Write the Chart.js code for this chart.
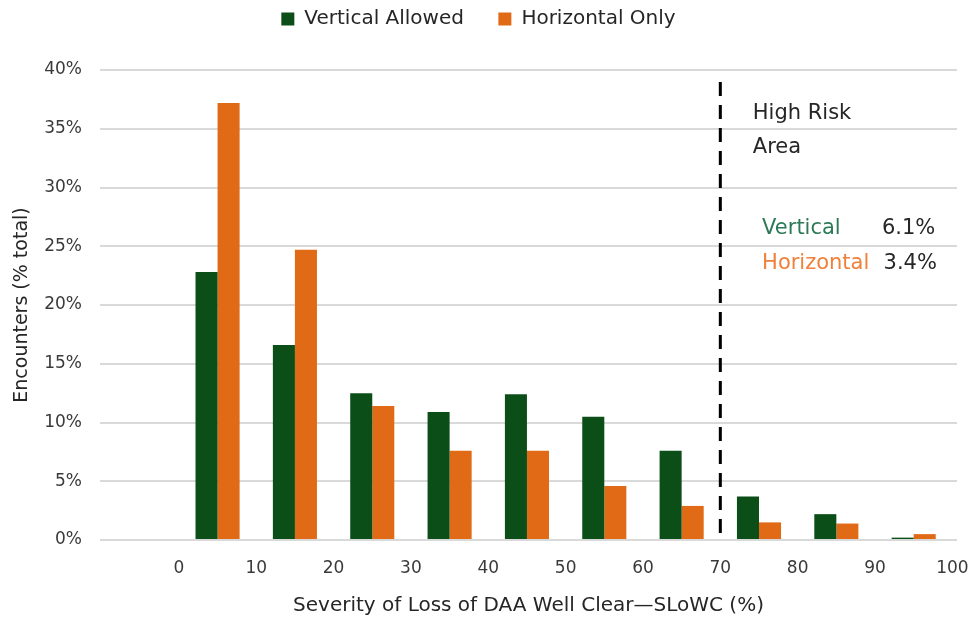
<!DOCTYPE html>
<html>
<head>
<meta charset="utf-8">
<script src="https://cdn.jsdelivr.net/npm/chart.js@4"></script>
<style>
  html, body { margin: 0; padding: 0; background: #fff; }
  #wrap { width: 973px; height: 622px; }
</style>
</head>
<body>
<div id="wrap"><canvas id="chart"></canvas></div>
<script>
// bin centres (SLoWC %) and share of encounters per bin
const binCenters = [5, 15, 25, 35, 45, 55, 65, 75, 85, 95];
const verticalAllowed = [22.8, 16.6, 12.5, 10.9, 12.4, 10.5, 7.6, 3.7, 2.2, 0.2];
const horizontalOnly = [37.2, 24.7, 11.4, 7.6, 7.6, 4.6, 2.9, 1.5, 1.4, 0.5];
const xTicks = [0, 10, 20, 30, 40, 50, 60, 70, 80, 90, 100];
const highRiskAt = 70;
const highRiskTotals = { vertical: '6.1%', horizontal: '3.4%' };

const GREEN = '#0c4e18';
const ORANGE = '#e06a16';
const FONT = "'DejaVu Sans', sans-serif";

// a bit of extra room under the legend
const legendGap = {
  id: 'legendGap',
  beforeInit(chart) {
    const fit = chart.legend.fit;
    chart.legend.fit = function () {
      fit.call(this);
      this.height += 31;
    };
  }
};

const annotate = {
  id: 'annotate',
  afterDatasetsDraw(chart) {
    const { ctx, scales: { x, y } } = chart;
    ctx.save();
    ctx.font = '21px ' + FONT;
    ctx.textBaseline = 'middle';
    ctx.textAlign = 'left';
    ctx.fillStyle = '#262626';
    ctx.fillText('High Risk', x.getPixelForValue(74.2), y.getPixelForValue(36.3));
    ctx.fillText('Area', x.getPixelForValue(74.2), y.getPixelForValue(33.4));
    ctx.fillStyle = '#2b7a55';
    ctx.fillText('Vertical', x.getPixelForValue(75.4), y.getPixelForValue(26.5));
    ctx.fillStyle = '#f0803a';
    ctx.fillText('Horizontal', x.getPixelForValue(75.4), y.getPixelForValue(23.5));
    ctx.fillStyle = '#262626';
    ctx.fillText(highRiskTotals.vertical, x.getPixelForValue(90.9), y.getPixelForValue(26.5));
    ctx.fillText(highRiskTotals.horizontal, x.getPixelForValue(91.1), y.getPixelForValue(23.5));
    ctx.restore();
  }
};

new Chart(document.getElementById('chart'), {
  type: 'bar',
  data: {
    datasets: [
      {
        label: 'Vertical Allowed',
        data: binCenters.map((c, i) => ({ x: c, y: verticalAllowed[i] })),
        backgroundColor: GREEN,
        borderWidth: 0,
        categoryPercentage: 0.57,
        barPercentage: 1.0
      },
      {
        label: 'Horizontal Only',
        data: binCenters.map((c, i) => ({ x: c, y: horizontalOnly[i] })),
        backgroundColor: ORANGE,
        borderWidth: 0,
        categoryPercentage: 0.57,
        barPercentage: 1.0
      },
      {
        type: 'line',
        label: 'High Risk',
        data: [{ x: highRiskAt, y: 0.6 }, { x: highRiskAt, y: 39.5 }],
        borderColor: '#000',
        borderWidth: 3,
        borderDash: [14, 9],
        pointRadius: 0,
        fill: false
      }
    ]
  },
  plugins: [legendGap, annotate],
  options: {
    responsive: true,
    maintainAspectRatio: false,
    animation: false,
    layout: { padding: { left: 0, right: 16, top: 0, bottom: 0 } },
    plugins: {
      legend: {
        position: 'top',
        labels: {
          boxWidth: 13,
          boxHeight: 13,
          padding: 9,
          color: '#262626',
          font: { family: FONT, size: 20 },
          generateLabels: chart => {
            const items = Chart.defaults.plugins.legend.labels.generateLabels(chart)
              .filter(item => item.text !== 'High Risk');
            items[0].text += '    ';
            return items;
          }
        }
      },
      tooltip: { enabled: false }
    },
    scales: {
      x: {
        type: 'linear',
        offset: false,
        min: -10.2,
        max: 100.6,
        afterBuildTicks: s => { s.ticks = xTicks.map(v => ({ value: v })); },
        afterFit: s => {
          s.height = 82;
          s.paddingLeft = 0;
          s.paddingRight = 0;
        },
        grid: { display: false, drawTicks: false },
        border: { display: false },
        ticks: { color: '#3a3a3a', padding: 18, font: { family: FONT, size: 17 } },
        title: {
          display: true,
          text: 'Severity of Loss of DAA Well Clear\u2014SLoWC (%)',
          color: '#262626',
          font: { family: FONT, size: 20 },
          padding: { top: 0, bottom: 4 }
        }
      },
      y: {
        min: 0,
        max: 40,
        afterFit: s => { s.width = 100; },
        grid: { color: '#d9d9d9', lineWidth: 2, drawTicks: false },
        border: { display: false },
        ticks: {
          stepSize: 5,
          padding: 18,
          color: '#3a3a3a',
          font: { family: FONT, size: 17 },
          callback: v => v + '%'
        },
        title: {
          display: true,
          text: 'Encounters (% total)',
          color: '#262626',
          font: { family: FONT, size: 19 },
          padding: { top: 11, bottom: 0 }
        }
      }
    }
  }
});
</script>
</body>
</html>
